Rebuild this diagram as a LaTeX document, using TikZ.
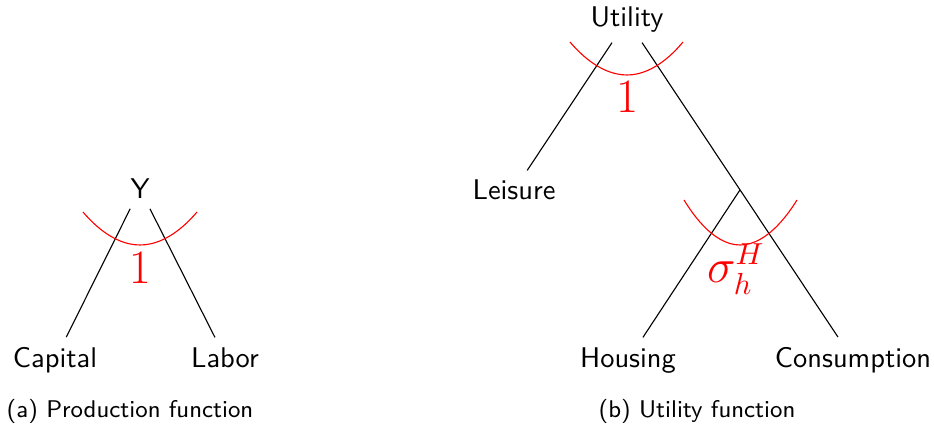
\documentclass[tikz,border=0pt]{standalone}
\usetikzlibrary{calc}
\begin{document}
\begin{tikzpicture}[x=0.36pt,y=-0.36pt,
  lbl/.style={font=\sffamily\fontsize{10.25}{12}\selectfont, anchor=base},
  capt/.style={font=\sffamily\fontsize{8.7}{11}\selectfont},
  elas/.style={red, font=\fontsize{16}{19}\selectfont, inner sep=0pt},
  curve/.style={red}]
\useasboundingbox (0,0) rectangle (934,429);
% (a) production function
\node[lbl] (Y) at (140,199) {Y};
\node[lbl] (K) at (55,367) {Capital};
\node[lbl] (L) at (225,367) {Labor};
\draw (Y) -- (K);
\draw (Y) -- (L);
\draw[curve] (83,212) parabola bend (140,245) (197,212);
\node[elas] (e1) at (140,268) {$1$};
\node[capt] (ca) at (130,411) {(a) Production function};
% (b) utility function
\node[lbl] (U) at (627,27) {Utility};
\node[lbl] (Le) at (514,200) {Leisure};
\node[lbl] (H) at (628,367) {Housing};
\node[lbl] (C) at (853,367) {Consumption};
\draw (U) -- (Le);
\draw (U) -- (C);
\coordinate (j) at ($(U)!0.5!(C)$);
\draw (j) -- (H);
\draw[curve] (570,42) parabola bend (627,75) (683,42);
\node[elas] (e2) at (627,97) {$1$};
\draw[curve] (684,200) parabola bend (740,245) (797,200);
\node[elas] (e3) at (736,269) {$\sigma_h^H$};
\node[capt] (cb) at (697,411) {(b) Utility function};
\end{tikzpicture}
\end{document}
